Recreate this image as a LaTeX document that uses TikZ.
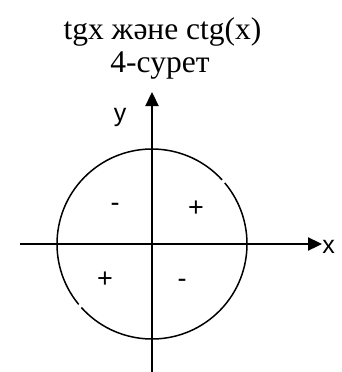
\documentclass[tikz,border=0pt]{standalone}
\usepackage{fontspec}
\setmainfont{Liberation Serif}
\setsansfont{Liberation Sans}
\usetikzlibrary{arrows.meta}
\begin{document}
\begin{tikzpicture}[x=1pt,y=-1pt,
  axis/.style={line width=2.3pt,-{Triangle[length=14pt,width=13pt]}},
  ring/.style={line width=1.5pt},
  title/.style={font=\fontsize{31.5}{34}\selectfont,align=center,inner sep=0pt},
  axlabel/.style={font=\sffamily\fontsize{25}{27}\selectfont,inner sep=0pt},
  sign/.style={font=\sffamily\fontsize{27}{29}\selectfont,inner sep=0pt}]
\useasboundingbox (0,0) rectangle (341,372);
\node[title,anchor=base] (t1) at (162.5,39) {tgx және ctg(x)};
\node[title,anchor=base] (t2) at (160,72) {4-сурет};
\coordinate (O) at (152,244);
\coordinate (xl) at (20,244);
\coordinate (xr) at (322,244);
\coordinate (yb) at (152,372);
\coordinate (yt) at (152,92);
\draw[axis] (xl) -- (xr);
\draw[axis] (yb) -- (yt);
\node[axlabel] (xlab) at (328.5,247) {x};
\node[axlabel] (ylab) at (120,117) {y};
\draw[ring] ([shift={(-40:95)}]O) arc[start angle=-40,end angle=138,radius=95];
\draw[ring] ([shift={(140.5:95)}]O) arc[start angle=140.5,end angle=317.5,radius=95];
\node[sign] (s1) at (115,207) {-};
\node[sign] (s2) at (196,209) {+};
\node[sign] (s3) at (105,280) {+};
\node[sign] (s4) at (182,283) {-};
\end{tikzpicture}
\end{document}
